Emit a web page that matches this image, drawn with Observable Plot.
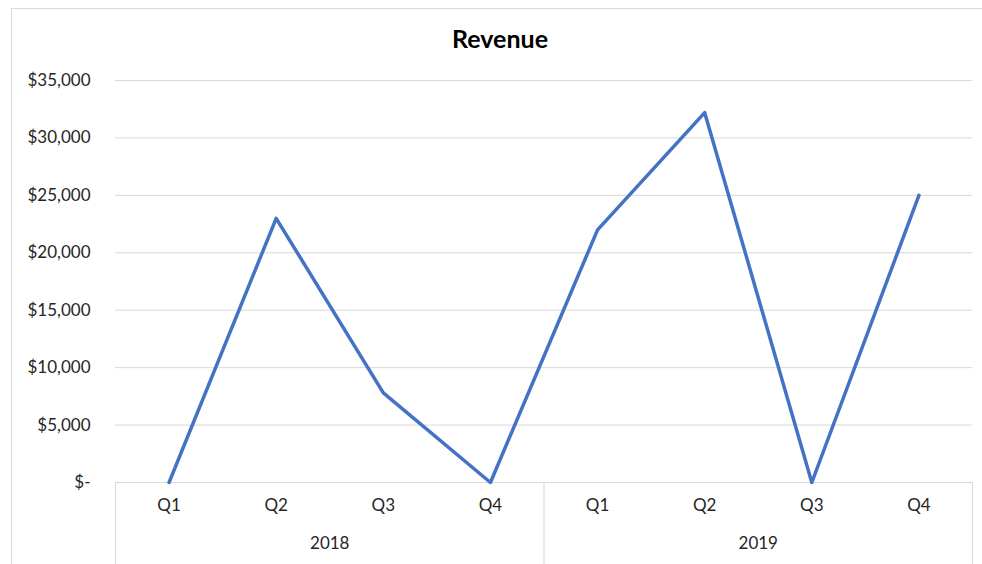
<!DOCTYPE html>
<html>
<head>
<meta charset="utf-8">
<script src="https://cdn.jsdelivr.net/npm/d3@7"></script>
<script src="https://cdn.jsdelivr.net/npm/@observablehq/plot@0.6"></script>
<style>
  html, body { margin: 0; padding: 0; background: #fff; overflow: hidden; }
  #wrap { position: relative; width: 982px; height: 564px; overflow: hidden; }
  #frame { position: absolute; left: 11px; top: 8px; width: 1000px; height: 700px; border: 1px solid #d9d9d9; box-sizing: border-box; }
  #title { position: absolute; left: 11px; width: 978px; top: 22px; text-align: center; font-family: Lato, sans-serif; font-weight: bold; font-size: 25px; color: #000; line-height: 32px; }
  #chart { position: absolute; left: 0; top: 0; }
</style>
</head>
<body>
<div id="wrap">
  <div id="frame"></div>
  <div id="chart"></div>
  <div id="title">Revenue</div>
</div>
<script>
const quarters = ["Q1", "Q2", "Q3", "Q4", "Q1", "Q2", "Q3", "Q4"];
const years = ["2018", "2018", "2018", "2018", "2019", "2019", "2019", "2019"];
const revenue = [0, 23000, 7800, 0, 22000, 32200, 0, 25000];
const yTicks = [0, 5000, 10000, 15000, 20000, 25000, 30000, 35000];

const data = quarters.map((q, i) => ({ i, q, year: years[i], value: revenue[i] }));
const yearGroups = d3.groups(data, d => d.year).map(([year, rows]) => ({
  year,
  mid: d3.mean(rows, r => r.i),
  start: d3.min(rows, r => r.i) - 0.5,
  end: d3.max(rows, r => r.i) + 0.5
}));
const separators = Array.from(new Set(yearGroups.flatMap(g => [g.start, g.end])));

const fmt = d => d === 0 ? "$-" : "$" + d3.format(",")(d);

const W = 982, H = 564, mT = 80, mB = 82;
const textColor = "#262626";
const chart = Plot.plot({
  width: W,
  height: H,
  marginLeft: 115,
  marginRight: 10,
  marginTop: mT,
  marginBottom: mB,
  x: { domain: [-0.5, 7.5], axis: null },
  y: { domain: [0, 35000], axis: null },
  style: { fontFamily: "Lato, sans-serif", fontSize: "17px", color: textColor, background: "transparent" },
  marks: [
    Plot.gridY(yTicks, { stroke: "#d9d9d9", strokeOpacity: 1, strokeWidth: 1 }),
    Plot.axisY(yTicks, { tickSize: 0, tickPadding: 25, tickFormat: fmt, fontSize: 17, fill: textColor, label: null }),
    Plot.ruleX(separators, { x: d => d, stroke: "#d9d9d9", strokeWidth: 1, insetTop: H - mT - mB, insetBottom: -mB }),
    Plot.text(data, { x: "i", text: "q", frameAnchor: "bottom", dy: 28, fill: textColor, fontSize: 17 }),
    Plot.text(yearGroups, { x: "mid", text: "year", frameAnchor: "bottom", dy: 66, fill: textColor, fontSize: 17 }),
    Plot.lineY(data, { x: "i", y: "value", stroke: "#4472c4", strokeWidth: 3.5, strokeLinejoin: "round", strokeLinecap: "round" })
  ]
});
document.getElementById("chart").appendChild(chart);
</script>
</body>
</html>
